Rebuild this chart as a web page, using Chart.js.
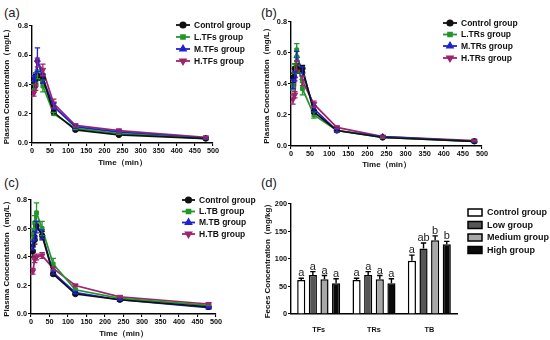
<!DOCTYPE html>
<html><head><meta charset="utf-8">
<script src="https://cdn.jsdelivr.net/npm/chart.js@4.4.1/dist/chart.umd.min.js"></script>
<style>
html,body{margin:0;padding:0;background:#fff;}
body{width:550px;height:340px;position:relative;overflow:hidden;font-family:"Liberation Sans",Arial,sans-serif;}
canvas{position:absolute;}
.lbl{position:absolute;font-size:13px;color:#222;line-height:14px;}
</style></head><body>
<div class="lbl" style="left:4px;top:6px">(a)</div>
<div class="lbl" style="left:261px;top:6px">(b)</div>
<div class="lbl" style="left:4px;top:176px">(c)</div>
<div class="lbl" style="left:261px;top:176px">(d)</div>
<canvas id="ca" width="275" height="170" style="left:0;top:0"></canvas>
<canvas id="cb" width="292" height="170" style="left:258px;top:0"></canvas>
<canvas id="cc" width="275" height="170" style="left:0;top:170px"></canvas>
<canvas id="cd" width="292" height="170" style="left:258px;top:170px"></canvas>
<script>
// ---------- data ----------
const times = [5, 10, 15, 30, 60, 120, 240, 480];
const yTicksPlasma = [0, 0.2, 0.4, 0.6, 0.8];
const xTicksTime = [0, 50, 100, 150, 200, 250, 300, 350, 400, 450, 500];

// (a) TFs
const namesA = ['Control group', 'L.TFs group', 'M.TFs group', 'H.TFs group'];
const ctrlA = [0.40, 0.44, 0.46, 0.44, 0.21, 0.090, 0.055, 0.030];
const lowA  = [0.38, 0.43, 0.47, 0.39, 0.20, 0.100, 0.065, 0.030];
const midA  = [0.44, 0.45, 0.57, 0.44, 0.25, 0.110, 0.075, 0.032];
const highA = [0.34, 0.38, 0.55, 0.50, 0.27, 0.120, 0.085, 0.038];
const ctrlAErr = [0.02, 0.03, 0.03, 0.03, 0.010, 0.008, 0.005, 0.004];
const lowAErr  = [0.02, 0.03, 0.03, 0.04, 0.010, 0.008, 0.005, 0.004];
const midAErr  = [0.02, 0.03, 0.08, 0.03, 0.020, 0.010, 0.006, 0.004];
const highAErr = [0.02, 0.02, 0.03, 0.04, 0.030, 0.010, 0.010, 0.005];

// (b) TRs
const namesB = ['Control group', 'L.TRs group', 'M.TRs group', 'H.TRs group'];
const ctrlB = [0.44, 0.50, 0.50, 0.50, 0.22, 0.100, 0.055, 0.030];
const lowB  = [0.38, 0.50, 0.62, 0.37, 0.20, 0.100, 0.055, 0.030];
const midB  = [0.40, 0.45, 0.58, 0.48, 0.24, 0.100, 0.060, 0.030];
const highB = [0.30, 0.33, 0.52, 0.42, 0.27, 0.120, 0.060, 0.035];
const ctrlBErr = [0.03, 0.03, 0.03, 0.02, 0.010, 0.008, 0.005, 0.004];
const lowBErr  = [0.02, 0.03, 0.04, 0.04, 0.020, 0.008, 0.005, 0.004];
const midBErr  = [0.03, 0.03, 0.03, 0.03, 0.020, 0.008, 0.005, 0.004];
const highBErr = [0.03, 0.02, 0.03, 0.03, 0.020, 0.008, 0.005, 0.004];

// (c) TB
const namesC = ['Control group', 'L.TB group', 'M.TB group', 'H.TB group'];
const ctrlC = [0.44, 0.52, 0.62, 0.55, 0.28, 0.140, 0.100, 0.050];
const lowC  = [0.56, 0.64, 0.71, 0.60, 0.35, 0.170, 0.110, 0.060];
const midC  = [0.48, 0.55, 0.61, 0.56, 0.29, 0.150, 0.100, 0.045];
const highC = [0.30, 0.38, 0.40, 0.41, 0.32, 0.200, 0.120, 0.070];
const ctrlCErr = [0.04, 0.03, 0.03, 0.03, 0.010, 0.008, 0.005, 0.004];
const lowCErr  = [0.04, 0.05, 0.07, 0.05, 0.040, 0.010, 0.008, 0.005];
const midCErr  = [0.03, 0.03, 0.04, 0.03, 0.010, 0.008, 0.005, 0.004];
const highCErr = [0.02, 0.02, 0.02, 0.02, 0.010, 0.008, 0.005, 0.004];

// (d) feces
const barCats = ['TFs', 'TRs', 'TB'];
const barNames = ['Control group', 'Low group', 'Medium group', 'High group'];
const yTicksFeces = [0, 50, 100, 150, 200];
const barCtrl = [62, 62, 97];
const barLow  = [71, 71, 119];
const barMed  = [63, 63, 134];
const barHigh = [56, 56, 127];
const errCtrl = [3, 3, 10];
const errLow  = [6, 6, 10];
const errMed  = [7, 7, 8];
const errHigh = [8, 8, 5];
const letCtrl = ['a', 'a', 'a'];
const letLow  = ['a', 'a', 'ab'];
const letMed  = ['a', 'a', 'b'];
const letHigh = ['a', 'a', 'b'];

// ---------- styles ----------
const lineColors = ['#111111', '#23962a', '#1f22d2', '#a0236e'];
const pointStyles = ['circle', 'rect', 'triangle', 'triangle'];
const pointRot = [0, 0, 0, 180];
const pointRad = [2.7, 2.7, 3.2, 3.2];
const barColors = ['#ffffff', '#565656', '#a8a8a8', '#0a0a0a'];
const FONT = '"Liberation Sans", Arial, sans-serif';

Chart.defaults.font.family = FONT;
Chart.defaults.color = '#111';

const errorPlugin = {
  id: 'errbars',
  afterDatasetsDraw(chart, args, opts) {
    const ctx = chart.ctx;
    const ys = chart.scales.y;
    chart.data.datasets.forEach((ds, di) => {
      const meta = chart.getDatasetMeta(di);
      ctx.save();
      ctx.strokeStyle = opts.color || ds.borderColor;
      ctx.lineWidth = opts.lineWidth || 1.2;
      meta.data.forEach((el, i) => {
        const v = chart.data.datasets[di].data[i];
        const val = typeof v === 'object' ? v.y : v;
        const e = ds.errors[i];
        const x = el.x;
        const yt = ys.getPixelForValue(val + e);
        const yb = opts.upperOnly ? ys.getPixelForValue(val) : ys.getPixelForValue(val - e);
        const cw = opts.cap || 2.5;
        ctx.beginPath();
        ctx.moveTo(x, yt); ctx.lineTo(x, yb);
        ctx.moveTo(x - cw, yt); ctx.lineTo(x + cw, yt);
        if (!opts.upperOnly) { ctx.moveTo(x - cw, yb); ctx.lineTo(x + cw, yb); }
        ctx.stroke();
        if (opts.letters && ds.letters) {
          ctx.fillStyle = '#222';
          ctx.font = '11px ' + FONT;
          ctx.textAlign = 'center';
          ctx.textBaseline = 'alphabetic';
          ctx.fillText(ds.letters[i], x, yt - 2);
        }
      });
      ctx.restore();
    });
  }
};

const legendPlugin = {
  id: 'mylegend',
  afterDraw(chart, args, o) {
    const ctx = chart.ctx;
    ctx.save();
    chart.data.datasets.forEach((ds, i) => {
      const y = o.ys[i];
      if (o.type === 'line') {
        ctx.strokeStyle = ds.borderColor;
        ctx.lineWidth = 1.8;
        ctx.beginPath(); ctx.moveTo(o.x0, y); ctx.lineTo(o.x1, y); ctx.stroke();
        ctx.fillStyle = ds.borderColor;
        Chart.helpers.drawPoint(ctx, {pointStyle: ds.pointStyle, rotation: ds.rotation, radius: ds.pointRadius, borderWidth: 1}, (o.x0 + o.x1) / 2, y);
      } else {
        ctx.fillStyle = ds.backgroundColor;
        ctx.fillRect(o.x0, y - o.bh / 2, o.x1 - o.x0, o.bh);
        ctx.strokeStyle = '#000'; ctx.lineWidth = 1.5;
        ctx.strokeRect(o.x0, y - o.bh / 2, o.x1 - o.x0, o.bh);
      }
      ctx.fillStyle = '#111';
      ctx.font = 'bold ' + o.fs + 'px ' + FONT;
      ctx.textAlign = 'left'; ctx.textBaseline = 'middle';
      ctx.fillText(ds.label, o.tx, y + 0.5);
    });
    ctx.restore();
  }
};

function axisCommon() {
  return {
    border: {display: true, color: '#000', width: 1.4},
    grid: {display: true, drawOnChartArea: false, drawTicks: true, tickLength: 3, color: '#000', lineWidth: 1.1},
  };
}

function lineChart(id, g, names, vals, errs) {
  const datasets = names.map((n, i) => ({
    label: n,
    data: times.map((t, k) => ({x: t, y: vals[i][k]})),
    errors: errs[i],
    borderColor: lineColors[i],
    backgroundColor: lineColors[i],
    borderWidth: 1.7,
    pointStyle: pointStyles[i],
    rotation: pointRot[i],
    pointRadius: pointRad[i],
    pointBorderWidth: 1,
    tension: 0
  }));
  return new Chart(document.getElementById(id), {
    type: 'line',
    data: {datasets},
    options: {
      responsive: false, animation: false,
      layout: {padding: g.pad},
      plugins: {legend: {display: false}, tooltip: {enabled: false},
        errbars: {cap: 2.7, lineWidth: 1.3},
        mylegend: Object.assign({type: 'line', fs: 8.5}, g.legend)},
      scales: {
        x: Object.assign(axisCommon(), {
          type: 'linear', min: 0, max: 500,
          afterBuildTicks: s => { s.ticks = xTicksTime.map(v => ({value: v})); },
          afterFit: s => { s.height = g.xH; },
          ticks: {font: {size: 7.3, weight: 'bold'}, padding: 1, maxRotation: 0, autoSkip: false, color: '#111'},
          title: {display: true, text: 'Time（min）', font: {size: 8, weight: 'bold'}, padding: {top: 0, bottom: g.xtp}, color: '#111'}
        }),
        y: Object.assign(axisCommon(), {
          min: 0, max: 0.8,
          afterBuildTicks: s => { s.ticks = yTicksPlasma.map(v => ({value: v})); },
          afterFit: s => { s.width = g.yW; },
          ticks: {font: {size: 7.3, weight: 'bold'}, padding: 1, callback: v => Number(v).toFixed(1), color: '#111'},
          title: {display: true, text: 'Plasma Concentration（mg/L）', font: {size: 8, weight: 'bold'}, padding: {top: g.ytp, bottom: 0}, color: '#111'}
        })
      }
    },
    plugins: [errorPlugin, legendPlugin]
  });
}

lineChart('ca', {pad: {left: 0, right: 62, top: 26, bottom: 0}, yW: 32, xH: 27, xtp: 2, ytp: 2,
  legend: {x0: 176, x1: 190, tx: 194, ys: [25, 37, 49, 61]}},
  namesA, [ctrlA, lowA, midA, highA], [ctrlAErr, lowAErr, midAErr, highAErr]);

lineChart('cb', {pad: {left: 0, right: 68, top: 22, bottom: 0}, yW: 33, xH: 24, xtp: 0, ytp: 4,
  legend: {x0: 185, x1: 199, tx: 203, ys: [23, 34.5, 46, 58]}},
  namesB, [ctrlB, lowB, midB, highB], [ctrlBErr, lowBErr, midBErr, highBErr]);

lineChart('cc', {pad: {left: 0, right: 59, top: 30, bottom: 0}, yW: 31, xH: 26, xtp: 1, ytp: 2,
  legend: {x0: 182, x1: 195, tx: 199, ys: [30, 41.5, 52.5, 64]}},
  namesC, [ctrlC, lowC, midC, highC], [ctrlCErr, lowCErr, midCErr, highCErr]);

// bar chart
const barVals = [barCtrl, barLow, barMed, barHigh];
const barErrs = [errCtrl, errLow, errMed, errHigh];
const barLets = [letCtrl, letLow, letMed, letHigh];
new Chart(document.getElementById('cd'), {
  type: 'bar',
  data: {
    labels: barCats,
    datasets: barNames.map((n, i) => ({
      label: n, data: barVals[i], errors: barErrs[i], letters: barLets[i],
      backgroundColor: barColors[i], borderColor: '#000', borderWidth: 1.5,
      categoryPercentage: 0.84, barPercentage: 0.7
    }))
  },
  options: {
    responsive: false, animation: false,
    layout: {padding: {left: 0, right: 93, top: 34, bottom: 0}},
    plugins: {legend: {display: false}, tooltip: {enabled: false},
      errbars: {upperOnly: true, color: '#000', cap: 2.7, lineWidth: 1.4, letters: true},
      mylegend: {type: 'bar', fs: 9, x0: 210, x1: 224, tx: 229, bh: 7, ys: [42.5, 55, 67.5, 80]}},
    scales: {
      x: {
        border: {display: true, color: '#000', width: 1.4},
        grid: {display: false},
        afterFit: s => { s.height = 26; },
        ticks: {font: {size: 7.3, weight: 'bold'}, padding: 4, color: '#111'}
      },
      y: Object.assign(axisCommon(), {
        min: 0, max: 200,
        afterBuildTicks: s => { s.ticks = yTicksFeces.map(v => ({value: v})); },
        afterFit: s => { s.width = 33; },
        ticks: {font: {size: 7.3, weight: 'bold'}, padding: 1, color: '#111'},
        title: {display: true, text: 'Feces Concentration（mg/kg）', font: {size: 8, weight: 'bold'}, padding: {top: 5, bottom: 0}, color: '#111'}
      })
    }
  },
  plugins: [errorPlugin, legendPlugin]
});
</script>
</body></html>
